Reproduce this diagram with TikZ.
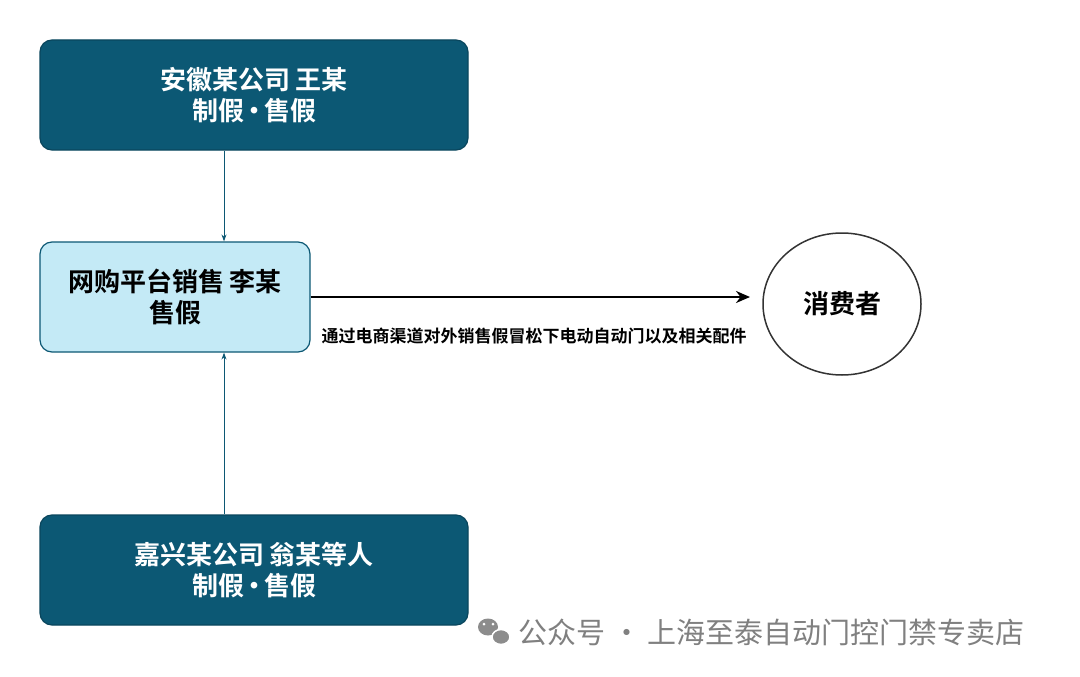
\documentclass[tikz,border=0pt]{standalone}
\usepackage{fontspec}
\setmainfont{Noto Sans CJK SC}[BoldFont={* Bold}]
\usetikzlibrary{arrows.meta,shapes.geometric}
\definecolor{dk}{HTML}{0C5874}
\definecolor{lt}{HTML}{C4EAF6}
\begin{document}
\begin{tikzpicture}[x=1pt,y=-1pt,
 dbox/.style={draw=dk!80!black,line width=1.2pt,fill=dk,rounded corners=12pt,text=white,font=\bfseries\fontsize{26}{31}\selectfont,align=center,inner sep=0pt},
 lbox/.style={draw=dk,line width=1.2pt,fill=lt,rounded corners=12pt,text=black,font=\bfseries\fontsize{26}{31}\selectfont,align=center,inner sep=0pt},
 tarr/.style={draw=dk,line width=1pt,-{Stealth[length=7pt,width=5pt]}}]
\useasboundingbox (0,0) rectangle (1080,677);
\fill[white] (0,0) rectangle (1080,677);
\node[dbox,minimum width=428pt,minimum height=110pt] (a) at (254,95) {安徽某公司 王某\\制假\kern-3pt•\kern-3pt售假};
\node[lbox,minimum width=270pt,minimum height=110pt] (m) at (175,297) {网购平台销售 李某\\售假};
\node[dbox,minimum width=428pt,minimum height=110pt] (b) at (254,570) {嘉兴某公司 翁某等人\\制假\kern-3pt•\kern-3pt售假};
\node[draw=black!80,line width=1.5pt,ellipse,minimum width=158pt,minimum height=142pt,font=\bfseries\fontsize{26}{31}\selectfont] (c) at (842,304) {消费者};
\draw[tarr] (a.south -| 224,0) -- (m.north -| 224,0);
\draw[tarr] (b.north -| 224,0) -- (m.south -| 224,0);
\coordinate (e) at (750,297);
\draw[line width=2.2pt,-{Stealth[length=14pt,width=12pt]}] (m.east |- 0,297) -- (e);
\node[font=\bfseries\fontsize{17}{20}\selectfont,anchor=west] (l) at (318,336) {通过电商渠道对外销售假冒松下电动自动门以及相关配件};
\node[text=black!50,font=\fontsize{29}{33}\selectfont,anchor=west] (w) at (515,632) {公众号 · 上海至泰自动门控门禁专卖店};
\fill[black!45] (488,627) ellipse (10pt and 8.5pt);
\fill[white] (484,624) circle (1.5pt) (493,624) circle (1.5pt);
\fill[black!45,draw=white,line width=1.5pt] (501,637) ellipse (9pt and 7.5pt);
\end{tikzpicture}
\end{document}
